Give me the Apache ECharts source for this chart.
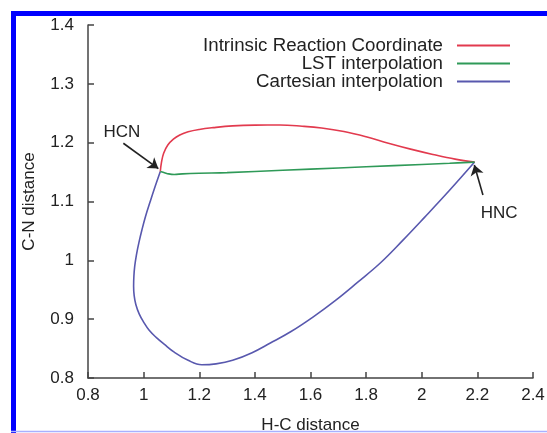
<!DOCTYPE html>
<html>
<head>
<meta charset="utf-8">
<script src="https://cdn.jsdelivr.net/npm/echarts@6/dist/echarts.min.js"></script>
<style>
html,body{margin:0;padding:0;background:#fff;}
#chart{width:547px;height:433px;}
</style>
</head>
<body>
<div id="chart"></div>
<script>
// Series names
var seriesNames = ['Intrinsic Reaction Coordinate', 'LST interpolation', 'Cartesian interpolation'];

// Intrinsic Reaction Coordinate (H-C, C-N)
var ircX = [1.06, 1.064, 1.072, 1.087, 1.107, 1.13, 1.16, 1.2, 1.25, 1.32, 1.4, 1.49, 1.57, 1.64, 1.72, 1.8, 1.88, 1.96, 2.04, 2.12, 2.19];
var ircY = [1.151, 1.166, 1.182, 1.196, 1.206, 1.213, 1.2185, 1.2225, 1.2255, 1.2285, 1.2298, 1.230, 1.228, 1.225, 1.219, 1.210, 1.199, 1.189, 1.180, 1.172, 1.167];

// LST interpolation
var lstX = [1.06, 1.075, 1.09, 1.11, 1.14, 1.2, 1.3, 1.5, 1.7, 1.9, 2.1, 2.19];
var lstY = [1.151, 1.149, 1.147, 1.146, 1.147, 1.148, 1.149, 1.153, 1.157, 1.161, 1.165, 1.167];

// Cartesian interpolation
var cartX = [1.06, 1.041, 1.023, 1.007, 0.994, 0.983, 0.974, 0.968, 0.965, 0.964, 0.966, 0.972, 0.984, 1.0, 1.02, 1.045, 1.075, 1.11, 1.16, 1.209, 1.26, 1.32, 1.39, 1.454, 1.53, 1.61, 1.69, 1.77, 1.85, 1.93, 2.01, 2.1, 2.19];
var cartY = [1.151, 1.125, 1.099, 1.075, 1.052, 1.03, 1.009, 0.99, 0.973, 0.956, 0.94, 0.925, 0.909, 0.895, 0.881, 0.869, 0.857, 0.844, 0.830, 0.8225, 0.824, 0.830, 0.843, 0.859, 0.879, 0.904, 0.932, 0.963, 0.995, 1.033, 1.073, 1.119, 1.167];

// Axis settings
var xMin = 0.8, xMax = 2.4, xStep = 0.2;
var yMin = 0.8, yMax = 1.4, yStep = 0.1;
var xName = 'H-C distance', yName = 'C-N distance';

// Annotations: [label, textX, textY, arrowFromX, arrowFromY, arrowToX, arrowToY]
var annHCN = ['HCN', 0.922, 1.218, 0.927, 1.199, 1.053, 1.156];
var annHNC = ['HNC', 2.278, 1.080, 2.220, 1.111, 2.189, 1.162];

var colors = ['#e23a4e', '#2f9a58', '#5858ae'];

function zip(xs, ys){ return xs.map(function(x,i){ return [x, ys[i]]; }); }

var font = '"Liberation Sans", Arial, Helvetica, sans-serif';
var chart = echarts.init(document.getElementById('chart'), null, {renderer:'canvas'});

function legendFor(i, top){
  return {
    data:[seriesNames[i]], right: 37, top: top, orient:'vertical', align:'right',
    icon:'rect', itemWidth:53, itemHeight:2, padding:0,
    textStyle:{fontFamily:font, fontSize:18.7, color:'#222', padding:[0,9,0,0]},
    selectedMode:false
  };
}

function annotationSeries(a){
  return {
    type:'line', data:[], silent:true,
    markLine:{
      silent:true, symbol:['none','arrow'], symbolSize:10,
      lineStyle:{color:'#222', width:1.6, type:'solid'},
      label:{show:false},
      data:[[{coord:[a[3],a[4]]},{coord:[a[5],a[6]]}]]
    },
    markPoint:{
      silent:true, symbol:'circle', symbolSize:0,
      label:{show:true, formatter:a[0], color:'#222', fontFamily:font, fontSize:17, position:'inside'},
      data:[{coord:[a[1],a[2]]}]
    }
  };
}

var option = {
  backgroundColor:'#fff',
  animation:false,
  grid:{left:88, right:14, top:25, bottom:55, containLabel:false, outerBoundsMode:'none'},
  legend:[legendFor(0, 36), legendFor(1, 54), legendFor(2, 72)],
  xAxis:{
    type:'value', min:xMin, max:xMax, interval:xStep,
    name:xName, nameLocation:'middle', nameGap:39,
    nameTextStyle:{fontFamily:font, fontSize:17, color:'#222'},
    axisLine:{show:true, lineStyle:{color:'#444', width:1.5}},
    axisTick:{show:true, inside:true, length:6, lineStyle:{color:'#444', width:1.5}},
    axisLabel:{fontFamily:font, fontSize:17, color:'#222', margin:9},
    splitLine:{show:false}
  },
  yAxis:{
    type:'value', min:yMin, max:yMax, interval:yStep,
    name:yName, nameLocation:'middle', nameGap:50, nameRotate:90,
    nameTextStyle:{fontFamily:font, fontSize:17, color:'#222'},
    axisLine:{show:true, lineStyle:{color:'#444', width:1.5}},
    axisTick:{show:true, inside:true, length:6, lineStyle:{color:'#444', width:1.5}},
    axisLabel:{fontFamily:font, fontSize:17, color:'#222', margin:14},
    splitLine:{show:false}
  },
  series:[
    {name:seriesNames[0], type:'line', data:zip(ircX, ircY), smooth:0.4, showSymbol:false, symbol:'none', lineStyle:{color:colors[0], width:1.6}, itemStyle:{color:colors[0]}, z:3},
    {name:seriesNames[1], type:'line', data:zip(lstX, lstY), smooth:0.4, showSymbol:false, symbol:'none', lineStyle:{color:colors[1], width:1.6}, itemStyle:{color:colors[1]}, z:3},
    {name:seriesNames[2], type:'line', data:zip(cartX, cartY), smooth:0.4, showSymbol:false, symbol:'none', lineStyle:{color:colors[2], width:1.6}, itemStyle:{color:colors[2]}, z:2},
    annotationSeries(annHCN),
    annotationSeries(annHNC)
  ],
  graphic:[
    {type:'rect', shape:{x:11, y:11, width:536, height:5}, style:{fill:'#0000ff'}, silent:true, z:100},
    {type:'rect', shape:{x:11, y:11, width:5, height:422}, style:{fill:'#0000ff'}, silent:true, z:100},
    {type:'line', shape:{x1:11, y1:431.5, x2:547, y2:431.5}, style:{stroke:'#a8b0ff', lineWidth:1.5}, silent:true, z:100}
  ]
};
chart.setOption(option);
</script>
</body>
</html>
